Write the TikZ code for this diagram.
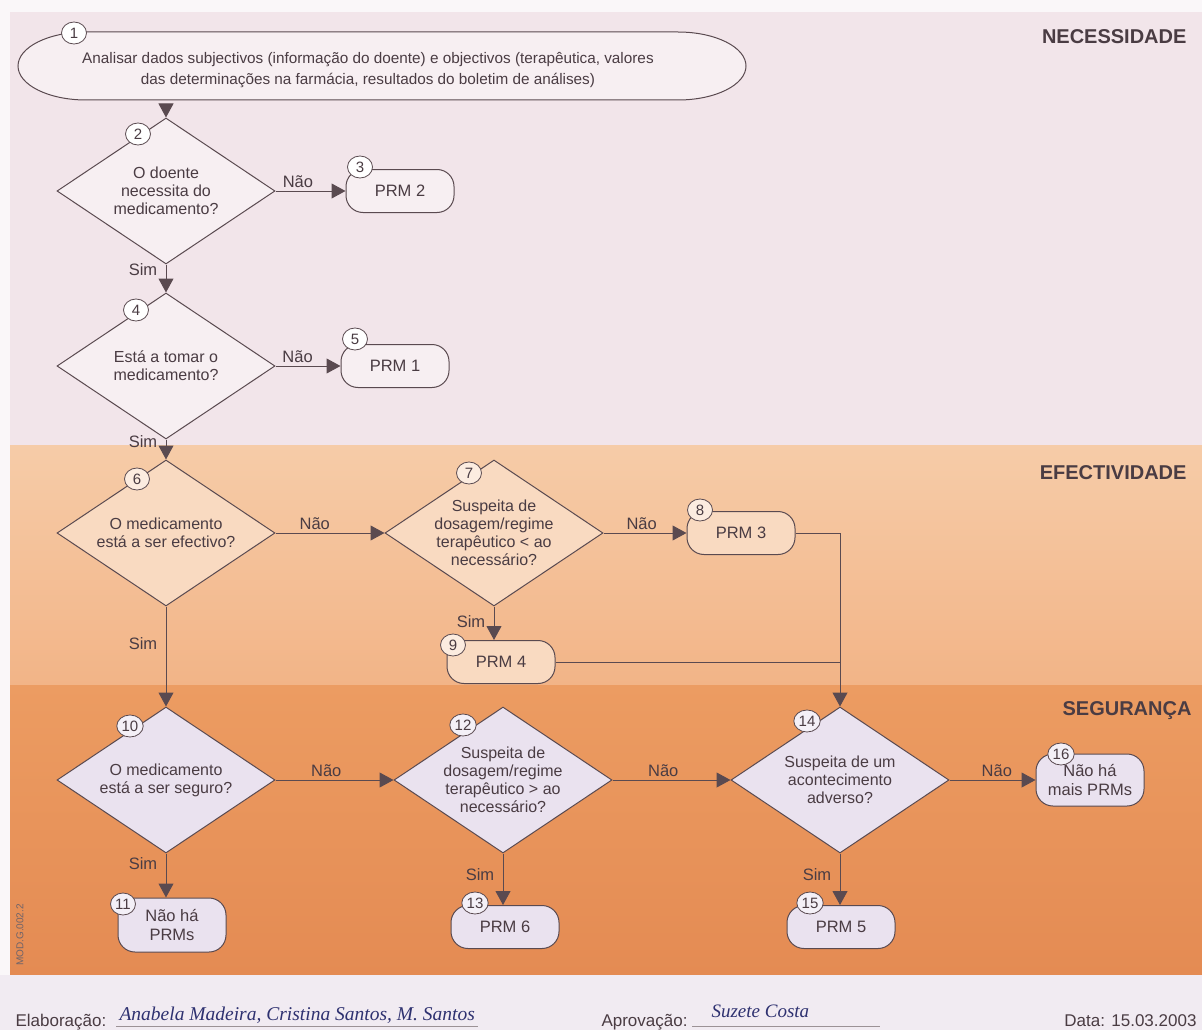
\documentclass[tikz,border=0pt]{standalone}
\usepackage{fontspec}
\setmainfont{Liberation Sans}
\newfontfamily\handfont{Liberation Serif}
\usetikzlibrary{shapes.geometric}
\usetikzlibrary{arrows.meta}

\definecolor{ink}{HTML}{4A3C43}
\definecolor{rule}{HTML}{5A4A50}
\definecolor{paper}{HTML}{FAF7F9}
\definecolor{bandA}{HTML}{F2E5EA}
\definecolor{bandBtop}{HTML}{F6CCA8}
\definecolor{bandBbot}{HTML}{F2B487}
\definecolor{bandCtop}{HTML}{EC9C62}
\definecolor{bandCbot}{HTML}{E48B53}
\definecolor{foot}{HTML}{F1EBF2}
\definecolor{fillA}{HTML}{F7EFF2}
\definecolor{fillB}{HTML}{F9DAC1}
\definecolor{fillC}{HTML}{EAE2EF}
\definecolor{pen}{HTML}{2E3170}

\begin{document}
\begin{tikzpicture}[x=1pt, y=-1pt,
	every node/.style={text=ink, font=\fontsize{16}{18}\selectfont},
	>={Triangle[length=14pt, width=15pt]},
	link/.style={draw=rule, line width=1pt},
	decision/.style={diamond, draw=rule, line width=1pt, aspect=1.5, inner sep=0pt, minimum width=218pt, minimum height=146pt, align=center},
	prm/.style={rectangle, rounded corners=17pt, draw=rule, line width=1pt, minimum width=108pt, minimum height=43pt, align=center, font=\fontsize{16.5}{19}\selectfont},
	num/.style={ellipse, draw=rule, line width=0.8pt, inner sep=1pt, minimum width=25pt, minimum height=22pt, font=\fontsize{15}{15}\selectfont},
	lbl/.style={font=\fontsize{16.5}{16.5}\selectfont},
	yes/.style={lbl, left=5pt},
	band/.style={anchor=base east, font=\bfseries\fontsize{20}{20}\selectfont},
	sign/.style={anchor=base west, font=\fontsize{17}{17}\selectfont}]

	\useasboundingbox (0,0) rectangle (1202,1030);

	% bands
	\fill[paper] (0,0) rectangle (1202,1030);
	\fill[bandA] (10,12) rectangle (1202,445);
	\shade[top color=bandBtop, bottom color=bandBbot] (10,445) rectangle (1202,685);
	\shade[top color=bandCtop, bottom color=bandCbot] (10,685) rectangle (1202,975);
	\fill[foot] (0,975) rectangle (1202,1030);

	\node[band] (t1) at (1190,44) {NECESSIDADE};
	\node[band] (t2) at (1190,479) {EFECTIVIDADE};
	\node[band] (t3) at (1195,715) {SEGURANÇA};

	% start
	\filldraw[fill=fillA, draw=rule, line width=1pt] (86,32) -- (678,32)
		arc[start angle=90, end angle=-90, x radius=68pt, y radius=34pt] -- (86,100)
		arc[start angle=270, end angle=90, x radius=68pt, y radius=34pt] -- cycle;
	\node[align=center, minimum width=728pt, minimum height=68pt, font=\fontsize{15.3}{21}\selectfont] (n1) at (368,70) {Analisar dados subjectivos (informação do doente) e objectivos (terapêutica, valores\\das determinações na farmácia, resultados do boletim de análises)};

	% necessidade
	\node[decision, fill=fillA] (n2) at (166,191) {O doente\\necessita do\\medicamento?};
	\node[prm, fill=fillA] (n3) at (400,191) {PRM 2};
	\node[decision, fill=fillA] (n4) at (166,366) {Está a tomar o\\medicamento?};
	\node[prm, fill=fillA] (n5) at (395,366) {PRM 1};

	% efectividade
	\node[decision, fill=fillB] (n6) at (166,533) {O medicamento\\está a ser efectivo?};
	\node[decision, fill=fillB] (n7) at (494,533) {Suspeita de\\dosagem/regime\\terapêutico < ao\\necessário?};
	\node[prm, fill=fillB] (n8) at (741,533) {PRM 3};
	\node[prm, fill=fillB] (n9) at (501,662) {PRM 4};

	% seguranca
	\node[decision, fill=fillC] (n10) at (166,780) {O medicamento\\está a ser seguro?};
	\node[decision, fill=fillC] (n12) at (503,780) {Suspeita de\\dosagem/regime\\terapêutico > ao\\necessário?};
	\node[decision, fill=fillC] (n14) at (840,780) {Suspeita de um\\acontecimento\\adverso?};
	\node[prm, fill=fillC, minimum height=52pt] (n16) at (1090,780) {Não há\\mais PRMs};
	\node[prm, fill=fillC, minimum height=54pt] (n11) at (172,925) {Não há\\PRMs};
	\node[prm, fill=fillC] (n13) at (505,927) {PRM 6};
	\node[prm, fill=fillC] (n15) at (841,927) {PRM 5};

	% numbers
	\node[num, fill=white] (c1) at (74,33) {1};
	\node[num, fill=white] (c2) at (138,134) {2};
	\node[num, fill=white] (c3) at (360,167) {3};
	\node[num, fill=white] (c4) at (136,310) {4};
	\node[num, fill=white] (c5) at (355,339) {5};
	\node[num, fill=white!50!fillB] (c6) at (137,479) {6};
	\node[num, fill=white!50!fillB] (c7) at (469,473) {7};
	\node[num, fill=white!50!fillB] (c8) at (700,510) {8};
	\node[num, fill=white!50!fillB] (c9) at (453,645) {9};
	\node[num, fill=white!50!fillC] (c10) at (130,726) {10};
	\node[num, fill=white!50!fillC] (c11) at (123,904) {11};
	\node[num, fill=white!50!fillC] (c12) at (463,725) {12};
	\node[num, fill=white!50!fillC] (c13) at (475,903) {13};
	\node[num, fill=white!50!fillC] (c14) at (807,721) {14};
	\node[num, fill=white!50!fillC] (c15) at (810,903) {15};
	\node[num, fill=white!50!fillC] (c16) at (1061,754) {16};

	% connectors
	\draw[link, ->] (n1.south -| n2.north) -- (n2.north);
	\draw[link, ->] (n2.east) -- node[lbl, above, pos=0.32] {Não} (n3.west);
	\draw[link, ->] (n2.south) -- node[yes, pos=0.2] {Sim} (n4.north);
	\draw[link, ->] (n4.east) -- node[lbl, above, pos=0.34] {Não} (n5.west);
	\draw[link, ->] (n4.south) -- node[yes, pos=0.1] {Sim} (n6.north);
	\draw[link, ->] (n6.east) -- node[lbl, above, pos=0.36] {Não} (n7.west);
	\draw[link, ->] (n7.east) -- node[lbl, above, pos=0.46] {Não} (n8.west);
	\draw[link, ->] (n7.south) -- node[yes, pos=0.45] {Sim} (n7.south |- n9.north);
	\draw[link, ->] (n8.east) -| (n14.north);
	\draw[link] (n9.east) -- (n9.east -| n14.north);
	\draw[link, ->] (n6.south) -- node[yes, pos=0.37] {Sim} (n10.north);
	\draw[link, ->] (n10.east) -- node[lbl, above, pos=0.43] {Não} (n12.west);
	\draw[link, ->] (n12.east) -- node[lbl, above, pos=0.43] {Não} (n14.west);
	\draw[link, ->] (n14.east) -- node[lbl, above, pos=0.55] {Não} (n16.west);
	\draw[link, ->] (n10.south) -- node[yes, pos=0.22] {Sim} (n10.south |- n11.north);
	\draw[link, ->] (n12.south) -- node[yes, pos=0.4] {Sim} (n12.south |- n13.north);
	\draw[link, ->] (n14.south) -- node[yes, pos=0.4] {Sim} (n14.south |- n15.north);

	% footer
	\node[rotate=90, text=ink!80, font=\fontsize{10}{10}\selectfont] (mod) at (20,935) {MOD.G.002.2};
	\node[sign] (f1) at (12,1026) {Elaboração:};
	\node[sign, text=pen, font=\handfont\itshape\fontsize{19.5}{19.5}\selectfont] (f2) at (116,1020) {Anabela Madeira, Cristina Santos, M. Santos};
	\draw[rule!60, line width=0.8pt] (f2.south west) -- (f2.south east);
	\node[sign] (f3) at (598,1026) {Aprovação:};
	\node[sign, text=pen, font=\handfont\itshape\fontsize{19}{19}\selectfont] (f4) at (708,1017) {Suzete Costa};
	\draw[rule!60, line width=0.8pt] (692,1026) -- (880,1026);
	\node[sign, anchor=base east] (f5) at (1200,1026) {Data: 15.03.2003};
\end{tikzpicture}
\end{document}
